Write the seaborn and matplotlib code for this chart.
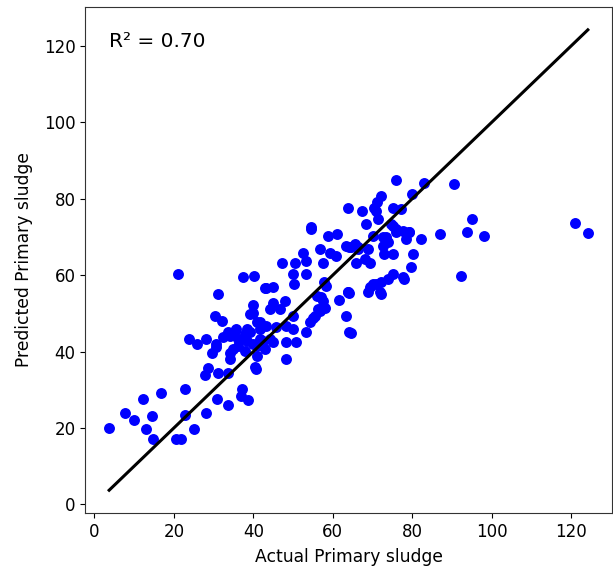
import matplotlib
matplotlib.use("Agg")
import matplotlib.pyplot as plt
import seaborn as sns
import numpy as np
import pandas as pd

actual = [
    3.7, 7.6, 10.0, 12.3, 16.7, 14.4, 13.1, 14.8, 20.5, 21.9,
    22.9, 22.9, 25.1, 28.0, 30.9, 33.5, 37.2, 36.8, 38.7, 27.8,
    31.0, 33.6, 40.6, 40.3, 28.6, 23.8, 25.7, 28.2, 29.6, 30.3,
    32.1, 31.0, 34.1, 21.1, 37.4, 40.1, 42.9, 39.9, 39.9, 33.6,
    35.3, 32.4, 30.7, 36.1, 37.8, 39.1, 39.9, 40.8, 39.1, 54.6,
    58.8, 61.0, 56.7, 52.5, 53.3, 50.4, 47.3, 59.2, 57.5, 60.9,
    63.4, 65.5, 50.0, 53.3, 50.2, 43.1, 44.9, 57.9, 57.5, 55.9,
    61.5, 63.8, 63.4, 64.7, 56.3, 54.9, 53.3, 50.0, 44.9, 47.9,
    46.6, 44.1, 50.0, 48.3, 45.8, 38.3, 41.6, 50.8, 48.3, 44.9,
    41.6, 75.8, 82.9, 80.0, 72.2, 71.2, 63.8, 67.3, 70.3, 75.1,
    77.2, 71.4, 68.4, 54.6, 87.0, 82.3, 79.3, 78.5, 75.1, 76.0,
    72.6, 73.9, 72.6, 75.1, 73.0, 80.2, 79.7, 77.6, 75.1, 73.9,
    72.2, 71.0, 69.3, 72.2, 68.8, 65.9, 68.0, 68.8, 66.3, 64.7,
    63.8, 58.4, 57.1, 48.3, 90.6, 71.0, 76.0, 77.6, 73.5, 64.2,
    66.3, 69.3, 70.1, 64.2, 71.8, 95.1, 93.7, 98.0, 121.0, 124.2,
    92.2, 77.8, 58.0, 56.7, 55.4, 54.2, 64.2, 35.7, 37.8, 41.6,
    43.3, 34.1, 36.1, 38.3, 40.8, 42.4, 44.1, 34.9, 37.8, 40.8,
    42.9, 30.7, 34.1, 74.7, 79.3, 70.0,
]
predicted = [
    20.0, 23.8, 22.0, 27.5, 29.1, 23.0, 19.8, 17.2, 17.2, 17.2,
    30.1, 23.3, 19.6, 23.8, 27.7, 25.9, 30.1, 28.4, 27.3, 33.8,
    34.5, 34.5, 35.4, 36.0, 35.8, 43.4, 41.9, 43.2, 39.7, 49.2,
    47.9, 55.0, 39.6, 60.4, 59.6, 59.8, 56.5, 52.2, 50.2, 45.0,
    45.4, 43.7, 41.1, 41.5, 43.2, 45.0, 41.9, 47.6, 49.8, 72.0,
    70.3, 70.7, 66.8, 65.8, 63.7, 63.1, 63.3, 65.9, 63.3, 65.0,
    67.7, 68.1, 60.4, 60.3, 57.6, 56.5, 57.0, 58.1, 53.3, 54.6,
    53.5, 55.5, 49.3, 44.8, 51.1, 48.9, 45.0, 45.8, 52.8, 53.3,
    51.1, 51.1, 49.3, 46.7, 46.3, 45.8, 47.6, 42.4, 42.4, 42.4,
    43.2, 85.0, 84.0, 81.2, 80.6, 79.2, 77.5, 76.8, 77.5, 77.7,
    77.3, 74.7, 73.4, 72.7, 70.7, 69.4, 71.2, 69.4, 72.9, 71.2,
    69.9, 68.6, 67.7, 65.5, 65.5, 65.5, 62.0, 59.4, 60.3, 58.9,
    58.1, 57.6, 56.8, 55.0, 55.5, 63.3, 64.2, 66.8, 66.8, 67.3,
    55.5, 57.2, 54.2, 38.0, 83.8, 76.8, 72.1, 71.6, 69.9, 67.3,
    67.3, 63.3, 57.6, 55.3, 55.5, 74.7, 71.2, 70.3, 73.6, 71.0,
    59.7, 59.1, 51.5, 50.6, 49.3, 47.6, 45.0, 45.8, 44.5, 45.8,
    46.7, 44.1, 43.2, 42.8, 41.5, 42.8, 43.2, 40.6, 40.2, 38.9,
    40.6, 41.9, 38.0, 73.4, 71.2, 70.3,
]

df = pd.DataFrame({"Actual": actual, "Predicted": predicted})
r2_text = "R² = 0.70"

fig = plt.figure(figsize=(6.13, 5.69), dpi=100)
ax = fig.add_axes([0.139, 0.098, 0.859, 0.890])

sns.scatterplot(data=df, x="Actual", y="Predicted", color="#0000ff",
                s=62, linewidth=0, ax=ax, zorder=2)
lo, hi = min(actual), max(actual)
ax.plot([lo, hi], [lo, hi], color="black", lw=2.2, zorder=3)

ax.text(0.045, 0.95, r2_text, transform=ax.transAxes, fontsize=14.5,
        va="top", ha="left")
ax.set_xlabel("Actual Primary sludge", fontsize=12.3, labelpad=5)
ax.set_ylabel("Predicted Primary sludge", fontsize=12.3, labelpad=8)
ax.tick_params(labelsize=12)
ax.set_xticks([0, 20, 40, 60, 80, 100, 120])
ax.set_yticks([0, 20, 40, 60, 80, 100, 120])
for sp in ax.spines.values():
    sp.set_color("#333333")

fig.savefig("out.png", dpi=100)
